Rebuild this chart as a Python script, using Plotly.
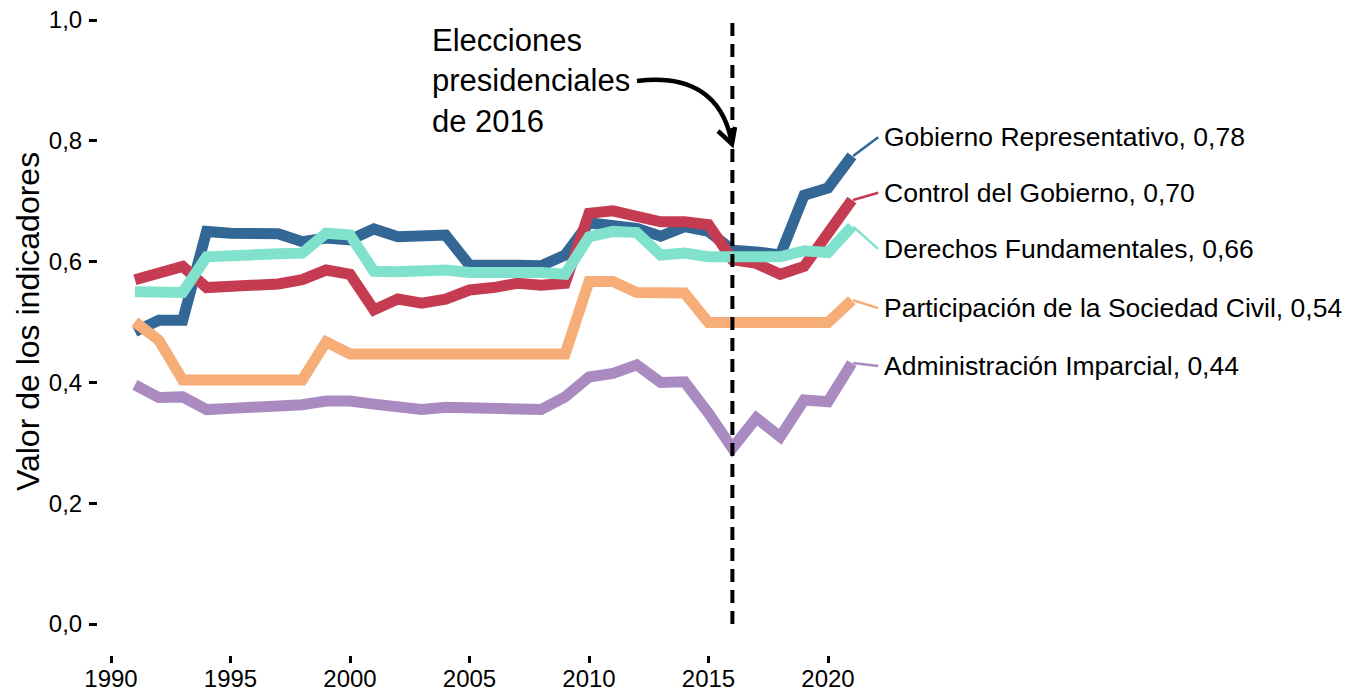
import plotly.graph_objects as go

years = list(range(1991, 2022))

gobierno_representativo = [0.484, 0.503, 0.503, 0.650, 0.647, 0.646, 0.646, 0.633, 0.639, 0.636,
                           0.654, 0.641, 0.641, 0.644, 0.594, 0.592, 0.594, 0.593, 0.611, 0.664,
                           0.658, 0.655, 0.642, 0.658, 0.650, 0.619, 0.616, 0.611, 0.710, 0.722, 0.775]
derechos_fundamentales = [0.550, 0.549, 0.549, 0.608, 0.611, 0.611, 0.613, 0.614, 0.647, 0.644,
                          0.584, 0.583, 0.586, 0.586, 0.582, 0.582, 0.585, 0.582, 0.579, 0.641,
                          0.650, 0.648, 0.611, 0.614, 0.608, 0.608, 0.606, 0.608, 0.618, 0.615, 0.658]
control_gobierno = [0.570, 0.579, 0.592, 0.557, 0.558, 0.561, 0.563, 0.570, 0.586, 0.579,
                    0.520, 0.538, 0.531, 0.538, 0.553, 0.557, 0.564, 0.561, 0.564, 0.680,
                    0.684, 0.675, 0.666, 0.666, 0.661, 0.603, 0.597, 0.579, 0.592, 0.647, 0.702]
participacion = [0.500, 0.470, 0.404, 0.404, 0.404, 0.404, 0.404, 0.404, 0.467, 0.447,
                 0.447, 0.447, 0.447, 0.447, 0.447, 0.447, 0.447, 0.447, 0.447, 0.567,
                 0.567, 0.549, 0.549, 0.548, 0.499, 0.499, 0.499, 0.499, 0.499, 0.499, 0.536]
administracion = [0.396, 0.375, 0.376, 0.355, 0.357, 0.359, 0.357, 0.363, 0.369, 0.369,
                  0.364, 0.360, 0.355, 0.359, 0.357, 0.357, 0.355, 0.355, 0.376, 0.409,
                  0.415, 0.429, 0.400, 0.401, 0.349, 0.291, 0.341, 0.310, 0.371, 0.368, 0.432]

series_names = ["Gobierno Representativo", "Control del Gobierno", "Derechos Fundamentales",
                "Participación de la Sociedad Civil", "Administración Imparcial"]
series_values = [gobierno_representativo, control_gobierno, derechos_fundamentales,
                 participacion, administracion]
series_labels = ["0,78", "0,70", "0,66", "0,54", "0,44"]
colors = ["#336795", "#c53c52", "#80e2cc", "#f6ad78", "#a98bc2"]
label_y = [0.806, 0.714, 0.621, 0.523, 0.427]

y_tickvals = [0.0, 0.2, 0.4, 0.6, 0.8, 1.0]
y_ticktext = ["0,0", "0,2", "0,4", "0,6", "0,8", "1,0"]
x_tickvals = [1990, 1995, 2000, 2005, 2010, 2015, 2020]
x_ticktext = ["1990", "1995", "2000", "2005", "2010", "2015", "2020"]

election_year = 2016

# geometry (screen pixel scale of the reference); page body adds an 8px offset
OFF_X, OFF_Y = 8, 8
SCREEN_W, SCREEN_H = 1354, 692
W, H = SCREEN_W - OFF_X, SCREEN_H - OFF_Y
X0_PX, PX_PER_YEAR = 111, 23.9
Y0_PX, PX_PER_UNIT = 624, 604
PLOT_L, PLOT_R, PLOT_T, PLOT_B = 98, 1350, 16, 655


def px_x(px):
    return 1990 + (px - X0_PX) / PX_PER_YEAR


def px_y(py):
    return (Y0_PX - py) / PX_PER_UNIT


FONT = "Liberation Sans, Arial, Helvetica, sans-serif"

fig = go.Figure()

# dashed line for 2016 elections
fig.add_shape(type="line", x0=election_year, x1=election_year, y0=0.0, y1=1.005,
              xref="x", yref="y", line=dict(color="black", width=4, dash="13px,8px"))

for name, vals, col in zip(series_names, series_values, colors):
    fig.add_trace(go.Scatter(x=years, y=vals, mode="lines", name=name,
                             line=dict(color=col, width=11), showlegend=False,
                             hoverinfo="skip"))

# connectors and labels
for name, vals, col, lab, ly in zip(series_names, series_values, colors, series_labels, label_y):
    fig.add_trace(go.Scatter(x=[years[-1] + 0.05, years[-1] + 1.1], y=[vals[-1], ly],
                             mode="lines", line=dict(color=col, width=2.5),
                             showlegend=False, hoverinfo="skip"))
    fig.add_annotation(x=years[-1] + 1.25, y=ly, xref="x", yref="y",
                       text=f"{name}, {lab}", showarrow=False, xanchor="left",
                       yanchor="middle", font=dict(family=FONT, size=26.5, color="black"))

# election annotation text
fig.add_annotation(x=px_x(430), y=px_y(81), xref="x", yref="y",
                   text="Elecciones<br>presidenciales<br>de 2016", showarrow=False,
                   xanchor="left", yanchor="middle", align="left",
                   font=dict(family=FONT, size=31, color="black"))

# curved arrow
sx, sy = px_x(637), px_y(81)
c1x, c1y = px_x(692), px_y(74)
c2x, c2y = px_x(722), px_y(97)
ex, ey = px_x(731), px_y(139)
fig.add_shape(type="path", xref="x", yref="y",
              path=f"M {sx},{sy} C {c1x},{c1y} {c2x},{c2y} {ex},{ey}",
              line=dict(color="black", width=4.5))
tx, ty = px_x(732), px_y(144)
a1x, a1y = px_x(718), px_y(131)
a2x, a2y = px_x(735), px_y(127)
fig.add_shape(type="path", xref="x", yref="y",
              path=f"M {a1x},{a1y} L {tx},{ty} L {a2x},{a2y}",
              line=dict(color="black", width=4.5))

# y axis title
fig.add_annotation(x=(28 - PLOT_L) / (PLOT_R - PLOT_L), y=0.5, xref="paper", yref="y",
                   text="Valor de los indicadores", showarrow=False, textangle=-90,
                   xanchor="center", yanchor="middle",
                   font=dict(family=FONT, size=32, color="black"))

fig.update_layout(
    template="none",
    width=W, height=H,
    margin=dict(l=PLOT_L - OFF_X, r=SCREEN_W - PLOT_R, t=PLOT_T - OFF_Y,
                b=SCREEN_H - PLOT_B, pad=0, autoexpand=False),
    paper_bgcolor="white", plot_bgcolor="white",
    showlegend=False,
    font=dict(family=FONT, color="black"),
    xaxis=dict(range=[px_x(PLOT_L), px_x(PLOT_R)], tickvals=x_tickvals, ticktext=x_ticktext,
               automargin=False, ticklabeloverflow="allow",
               showgrid=False, zeroline=False, showline=False,
               ticks="outside", ticklen=7, tickwidth=3, tickcolor="black",
               ticklabelstandoff=-5,
               tickfont=dict(family=FONT, size=24, color="black")),
    yaxis=dict(range=[px_y(PLOT_B), px_y(PLOT_T)], tickvals=y_tickvals, ticktext=y_ticktext,
               automargin=False, ticklabeloverflow="allow",
               showgrid=False, zeroline=False, showline=False,
               ticks="outside", ticklen=8, tickwidth=3, tickcolor="black",
               ticklabelstandoff=2,
               tickfont=dict(family=FONT, size=24, color="black")),
)

fig.write_html("out.html")
